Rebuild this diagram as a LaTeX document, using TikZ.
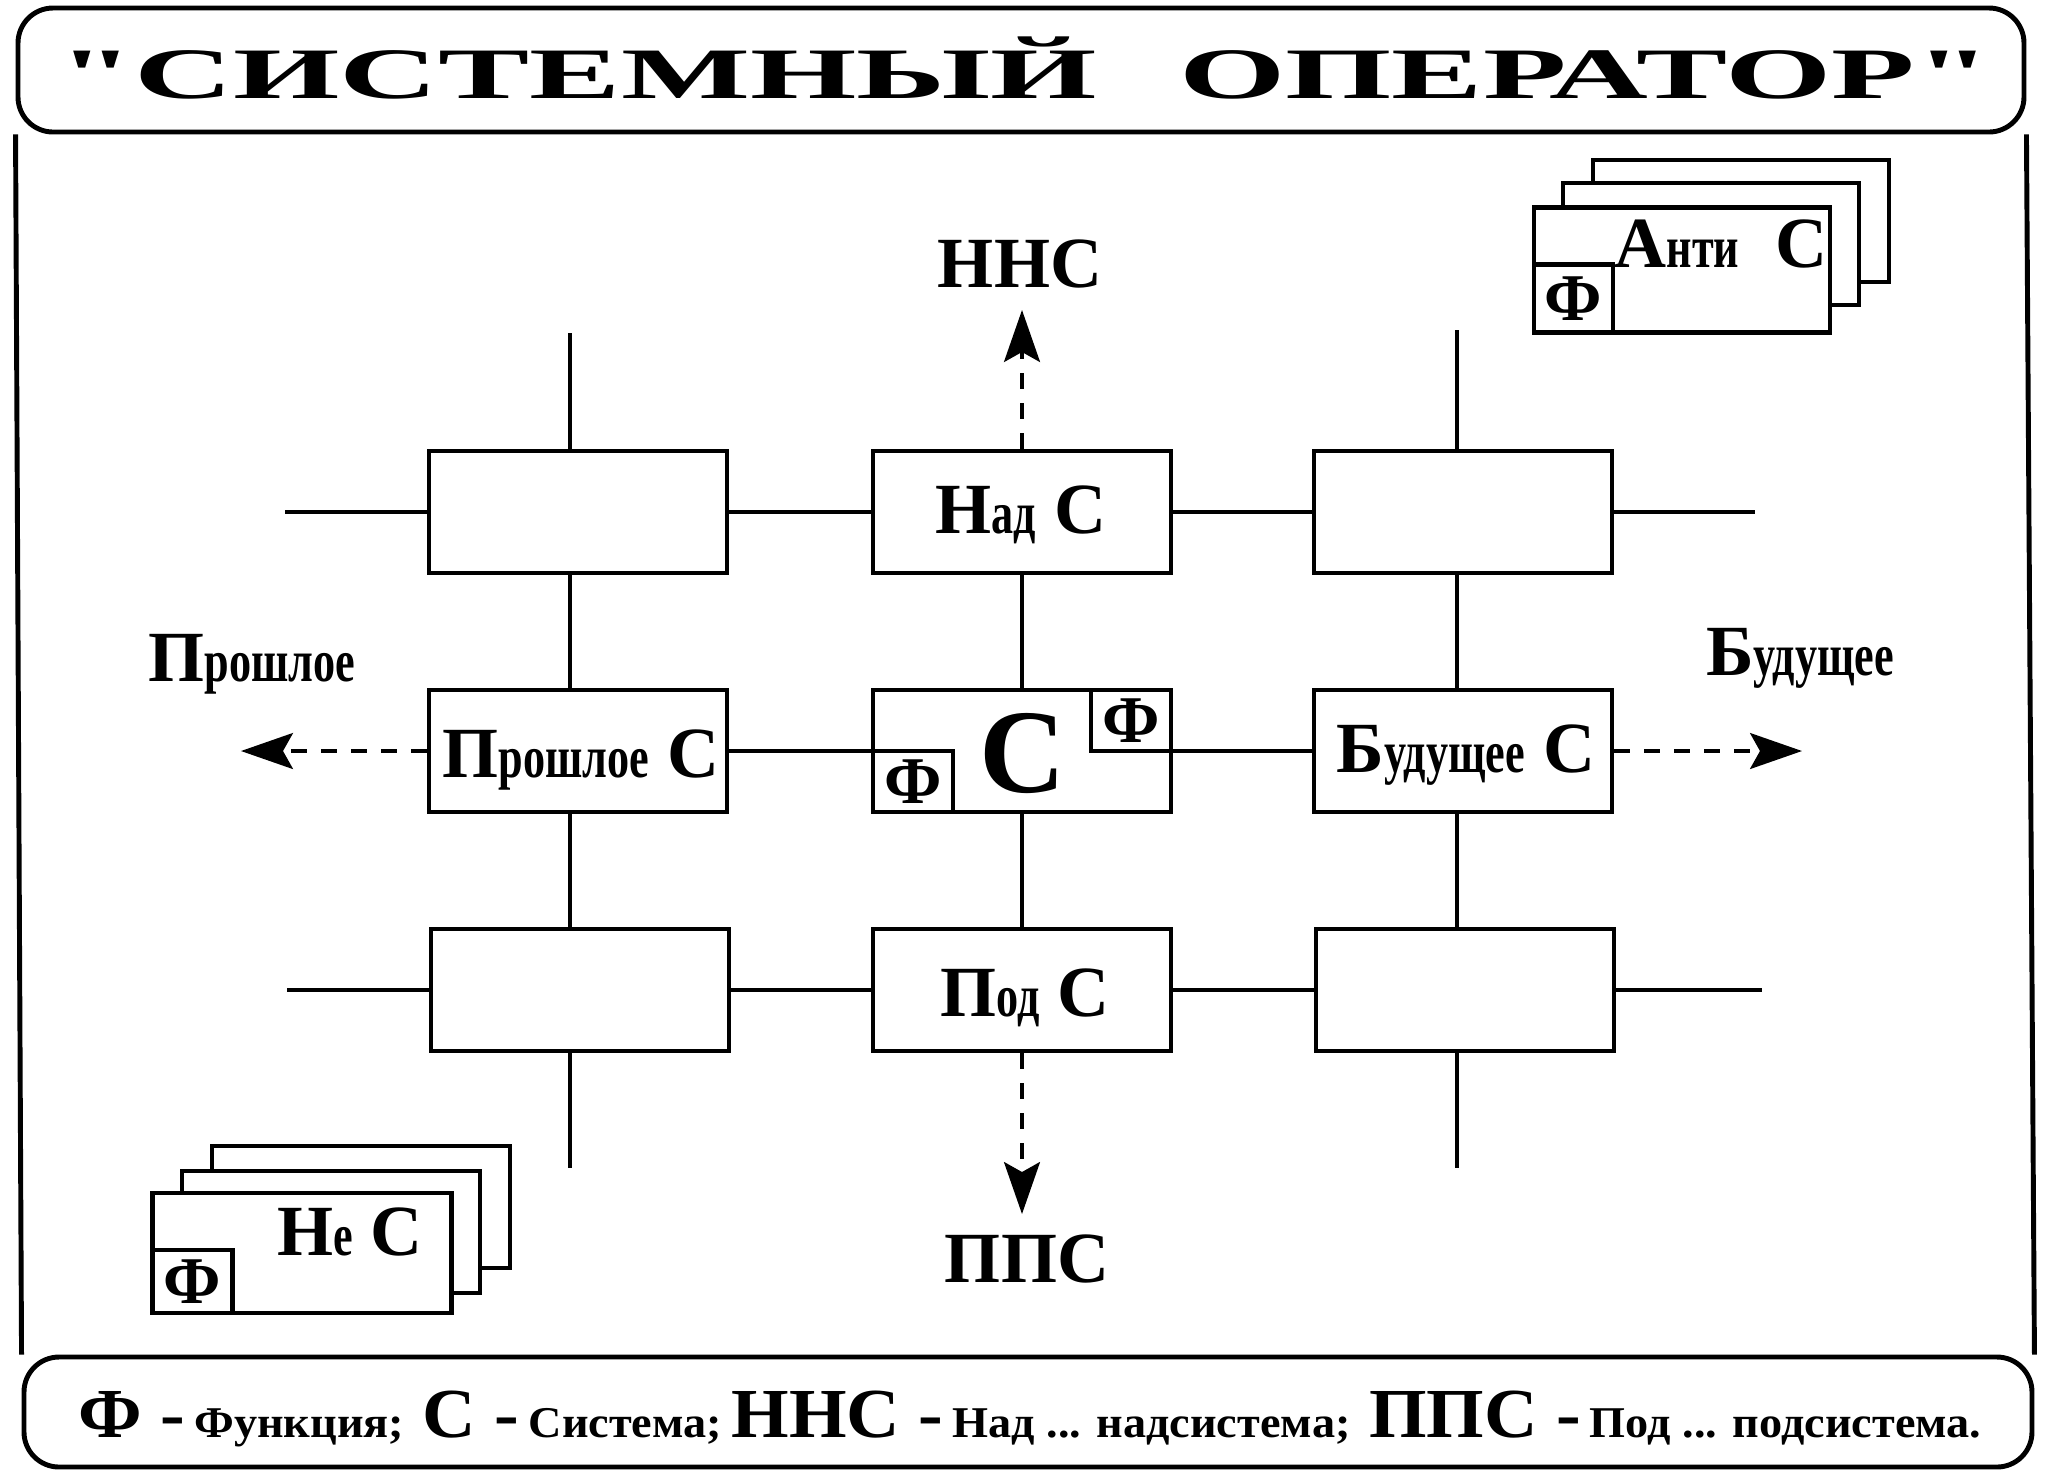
\documentclass[tikz,border=0pt]{standalone}
\usepackage{fontspec}
\setmainfont{Liberation Serif}
\usetikzlibrary{arrows.meta}
\newcommand{\lcx}[1]{{\fontsize{17}{17}\selectfont\scalebox{0.74}[1]{#1}}}
\newcommand{\ucx}{\fontsize{20.5}{20.5}\selectfont}
\newcommand{\bgx}[1]{{\fontsize{20}{20}\selectfont #1}}
\newcommand{\smx}[1]{{\fontsize{12.5}{12.5}\selectfont #1}}
\begin{document}
\begin{tikzpicture}[x=0.1mm,y=-0.1mm, font=\bfseries,
  gbox/.style={draw, line width=1.2pt, minimum width=29.8mm, minimum height=12.2mm, inner sep=0pt, fill=white},
  fbox/.style={draw, line width=1.2pt, inner sep=0pt, fill=white, minimum width=8mm, minimum height=6.1mm, font=\bfseries\fontsize{19}{19}\selectfont},
  sbox/.style={draw, line width=1.2pt, inner sep=0pt, fill=white, minimum width=29.6mm, minimum height=12.2mm},
  gline/.style={line width=0.9pt},
  dline/.style={line width=0.9pt, dash pattern=on 1.6mm off 1.4mm},
  arr/.style={-{Stealth[length=5.2mm,width=3.6mm,inset=1mm]}},
  lbl/.style={inner sep=0pt, anchor=base},
  frame/.style={line width=1.4pt}
]
\useasboundingbox (0,0) rectangle (2047,1481);

% frame, title and legend
\node[draw, frame, rounded corners=3.5mm, minimum width=200.6mm, minimum height=12.4mm, inner sep=0pt] (titlebox) at (1021,70) {};
\node[draw, frame, rounded corners=3.5mm, minimum width=200.8mm, minimum height=11mm, inner sep=0pt] (legendbox) at (1028,1412) {};
\draw[frame] (titlebox.south west) -- (legendbox.north west);
\draw[frame] (titlebox.south east) -- (legendbox.north east);
\node[lbl] (title) at (1025,98) {\resizebox{193.2mm}{\height}{\fontsize{20.6}{21}\selectfont \textquotedbl СИСТЕМНЫЙ\hspace{0.6em}ОПЕРАТОР\textquotedbl}};
\node[lbl] (legend) at (1030,1437) {\resizebox{190.3mm}{\height}{\bgx{Ф -} \smx{Функция;}\enspace \bgx{С -} \smx{Система;} \bgx{ННС -} \smx{Над ... надсистема;}\enspace \bgx{ППС -} \smx{Под ... подсистема.}}};

% grid boxes
\node[gbox] (b11) at (578,512) {};
\node[gbox] (b12) at (1022,512) {};
\node[gbox] (b13) at (1463,512) {};
\node[gbox] (b21) at (578,751) {};
\node[gbox] (b22) at (1022,751) {};
\node[gbox] (b23) at (1463,751) {};
\node[gbox] (b31) at (580,990) {};
\node[gbox] (b32) at (1022,990) {};
\node[gbox] (b33) at (1465,990) {};

\node[lbl] (t12) at (1021,533) {\ucx Н\lcx{ад} С};
\node[lbl] (t21) at (581,777) {\ucx П\lcx{рошлое} С};
\node[lbl] (t23) at (1466,772) {\ucx Б\lcx{удущее} С};
\node[lbl] (t32) at (1025,1016) {\ucx П\lcx{од} С};
\node[lbl] (t22) at (1023,792) {\fontsize{34}{34}\selectfont С};
\node[fbox, anchor=south west] (f1) at (b22.south west) {Ф};
\node[fbox, anchor=north east] (f2) at (b22.north east) {Ф};

% free ends
\coordinate (w1) at (285,512);
\coordinate (e1) at (1755,512);
\coordinate (w3) at (287,990);
\coordinate (e3) at (1762,990);
\coordinate (n1) at (570,333);
\coordinate (s1) at (570,1168);
\coordinate (n3) at (1457,330);
\coordinate (s3) at (1457,1168);
\coordinate (larr) at (241,751);
\coordinate (rarr) at (1802,751);
\coordinate (uarr) at (1022,310);
\coordinate (darr) at (1022,1214);

% grid lines
\draw[gline] (w1) -- (b11.west) (b11.east) -- (b12.west) (b12.east) -- (b13.west) (b13.east) -- (e1);
\draw[gline] (b21.east) -- (b22.west) (b22.east) -- (b23.west);
\draw[gline] (w3) -- (b31.west) (b31.east) -- (b32.west) (b32.east) -- (b33.west) (b33.east) -- (e3);
\draw[gline] (n1) -- (n1 |- b11.north) (n1 |- b11.south) -- (n1 |- b21.north) (n1 |- b21.south) -- (n1 |- b31.north) (n1 |- b31.south) -- (s1);
\draw[gline] (b12.south) -- (b22.north) (b22.south) -- (b32.north);
\draw[gline] (n3) -- (n3 |- b13.north) (n3 |- b13.south) -- (n3 |- b23.north) (n3 |- b23.south) -- (n3 |- b33.north) (n3 |- b33.south) -- (s3);

% dashed arrows
\draw[dline, arr] (b21.west) -- (larr);
\draw[dline, arr] (b23.east) -- (rarr);
\draw[dline, arr] (b12.north) -- (uarr);
\draw[dline, arr] (b32.south) -- (darr);

% direction labels
\node[lbl] (nns) at (1020,287) {\ucx ННС};
\node[lbl] (pps) at (1027,1282) {\ucx ППС};
\node[lbl] (past) at (252,681) {\ucx П\lcx{рошлое}};
\node[lbl] (fut) at (1800,675) {\ucx Б\lcx{удущее}};

% Anti C stack
\node[sbox] (a3) at (1741,221) {};
\node[sbox] (a2) at (1711,244) {};
\node[sbox, minimum height=12.5mm] (a1) at (1682,270) {};
\node[fbox, anchor=south west, minimum width=7.9mm, minimum height=6.8mm] (af) at (a1.south west) {Ф};
\node[lbl] (at) at (1721,267) {\ucx А\lcx{нти}\enspace С};

% Ne C stack
\node[sbox, minimum width=29.8mm] (n3b) at (361,1207) {};
\node[sbox, minimum width=29.8mm] (n2b) at (331,1232) {};
\node[sbox, minimum width=29.9mm, minimum height=12mm] (n1b) at (302,1253) {};
\node[fbox, anchor=south west, minimum height=6.3mm] (nf) at (n1b.south west) {Ф};
\node[lbl] (nt) at (350,1255) {\ucx Н\lcx{е} С};
\end{tikzpicture}
\end{document}
